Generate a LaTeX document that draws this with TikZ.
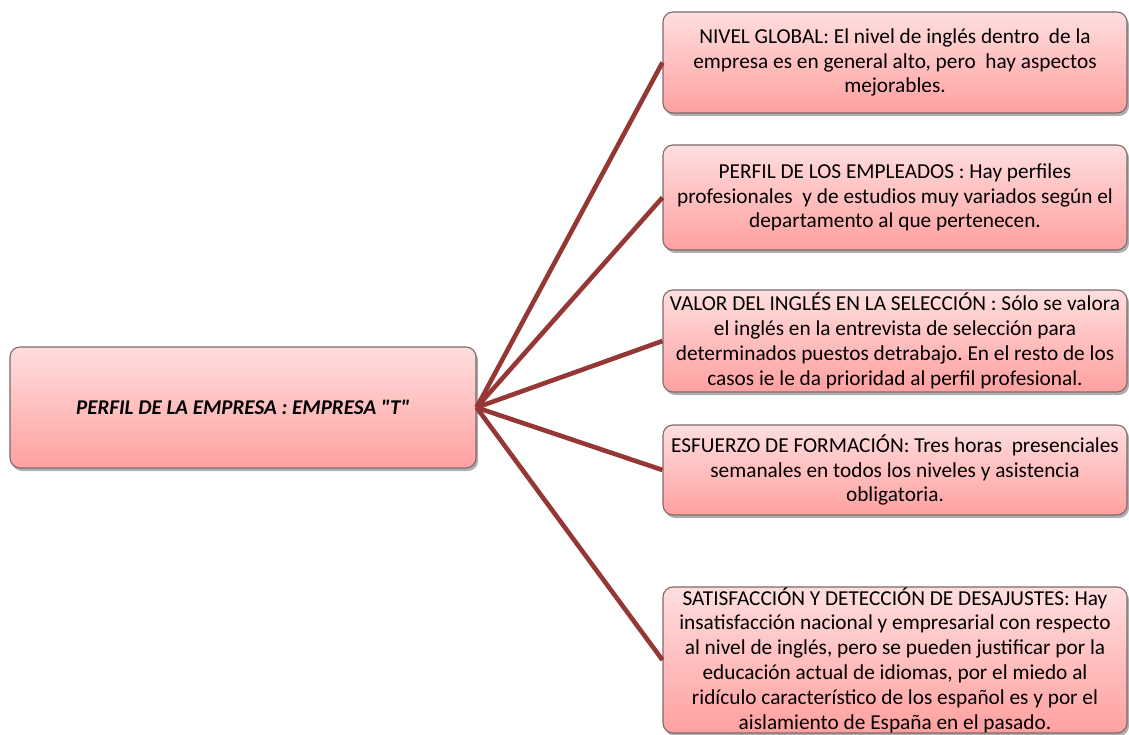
\documentclass[tikz,border=0pt]{standalone}
\usepackage{fontspec}
\setmainfont{Carlito}[Ligatures=TeXOff]
\frenchspacing
\usetikzlibrary{shadows}
\definecolor{linkred}{RGB}{149,55,53}
\definecolor{boxtop}{RGB}{255,222,222}
\definecolor{boxbottom}{RGB}{255,160,160}
\definecolor{boxedge}{RGB}{125,105,105}
\tikzset{
  topic/.style={draw=boxedge, line width=1.1pt, rounded corners=10pt,
    top color=boxtop, bottom color=boxbottom, inner sep=0pt,
    align=center, text=black,
    font=\fontsize{21.3}{24.8}\selectfont,
    drop shadow={shadow xshift=2pt, shadow yshift=-3pt, opacity=0.45, fill=black!70}},
  link/.style={draw=linkred, line width=4.6pt}
}
\begin{document}
\begin{tikzpicture}[x=1pt, y=-1pt]
\useasboundingbox (0,0) rectangle (1129,735);
% central node
\node[topic, minimum width=466pt, minimum height=121pt,
  font=\fontsize{21}{24.8}\selectfont\bfseries\itshape] (root) at (243,407.5)
  {PERFIL DE LA EMPRESA : EMPRESA "T"};
% branch nodes
\node[topic, minimum width=464pt, minimum height=101pt] (b1) at (895,62.5)
  {NIVEL GLOBAL: El nivel de inglés dentro\ \ de la\\
   empresa es en general alto, pero\ \ hay aspectos\\
   mejorables.};
\node[topic, minimum width=464pt, minimum height=105pt] (b2) at (895,197.5)
  {PERFIL DE LOS EMPLEADOS : Hay perfiles\\
   profesionales\ \ y de estudios muy variados según el\\
   departamento al que pertenecen.};
\node[topic, minimum width=464pt, minimum height=102pt] (b3) at (895,341)
  {VALOR DEL INGLÉS EN LA SELECCIÓN : Sólo se valora\\
   el inglés en la entrevista de selección para\\
   determinados puestos detrabajo. En el resto de los\\
   casos ie le da prioridad al perfil profesional.};
\node[topic, minimum width=464pt, minimum height=90pt] (b4) at (895,470)
  {ESFUERZO DE FORMACIÓN: Tres horas\ \ presenciales\\
   semanales en todos los niveles y asistencia\\
   obligatoria.};
\node[topic, minimum width=464pt, minimum height=146pt] (b5) at (895,660)
  {SATISFACCIÓN Y DETECCIÓN DE DESAJUSTES: Hay\\
   insatisfacción nacional y empresarial con respecto\\
   al nivel de inglés, pero se pueden justificar por la\\
   educación actual de idiomas, por el miedo al\\
   ridículo característico de los español es y por el\\
   aislamiento de España en el pasado.};
% connectors fanning out from the central node
\foreach \b in {b1,b2,b3,b4,b5}
  \draw[link] (root.east) -- (\b.west);
\end{tikzpicture}
\end{document}
